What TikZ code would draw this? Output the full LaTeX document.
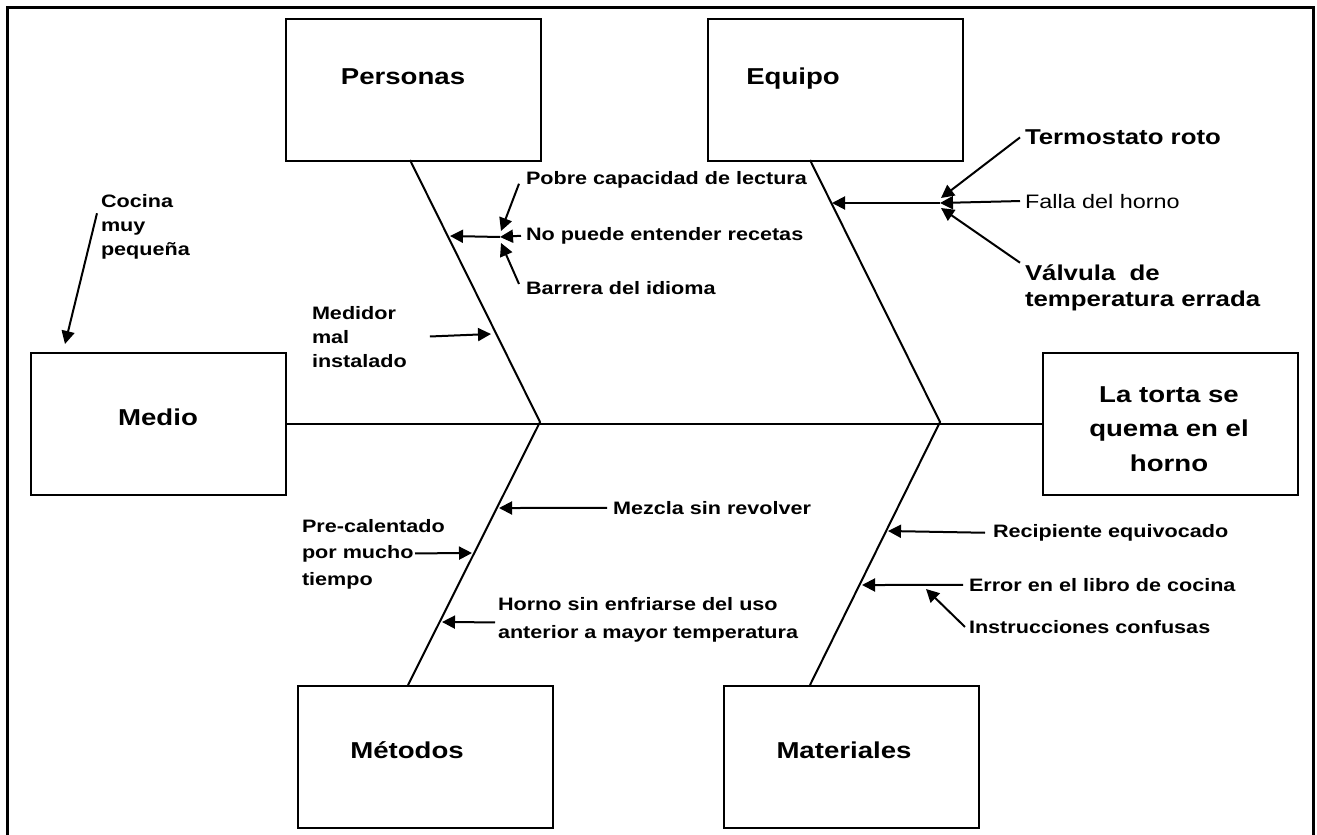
\documentclass[tikz,border=0pt]{standalone}
\usepackage{fontspec}
\setmainfont[FakeStretch=1.2]{Liberation Sans}
\usetikzlibrary{arrows.meta}
\begin{document}
\begin{tikzpicture}[x=1pt,y=-1pt,line width=2pt,
  box/.style={draw,line width=2pt,minimum width=255pt,minimum height=142pt,inner sep=0pt,anchor=north west},
  title/.style={font=\fontsize{23}{27}\selectfont\bfseries,inner sep=0pt},
  cause/.style={font=\fontsize{18}{24}\selectfont\bfseries,inner sep=0pt,align=left},
  bigcause/.style={font=\fontsize{21.5}{26}\selectfont\bfseries,inner sep=0pt,align=left},
  arr/.style={-{Triangle[length=13pt,width=13pt]},line width=2pt},
  bone/.style={line width=2pt}]
\useasboundingbox (0,0) rectangle (1317,835);
% frame
\draw[line width=3pt] (7,845) -- (7,7) -- (1313,7) -- (1313,845);
% boxes
\node[box] (personas) at (285,18) {};
\node[box] (equipo) at (707,18) {};
\node[box] (medio) at (30,352) {};
\node[box] (efecto) at (1042,352) {};
\node[box] (metodos) at (297,685) {};
\node[box] (materiales) at (723,685) {};
% box titles
\node[title,anchor=base] (lpersonas) at (403,84.2) {Personas};
\node[title,anchor=base] (lequipo) at (793,84.2) {Equipo};
\node[title,anchor=base] (lmedio) at (158,425.2) {Medio};
\node[title,anchor=base] (lmetodos) at (407,758.2) {Métodos};
\node[title,anchor=base] (lmateriales) at (844,758.2) {Materiales};
\node[title,align=center,anchor=north,font=\fontsize{23}{34.5}\selectfont\bfseries] (lefecto) at (1169,383.2) {\rule{0pt}{18pt}La torta se\\quema en el\\horno};
% spine and bones
\coordinate (A1) at (540,422);
\coordinate (A2) at (940,422);
\coordinate (PB) at (410,160);
\coordinate (EB) at (810,160);
\coordinate (MB) at (408,685);
\coordinate (TB) at (810,685);
\draw[bone] (medio.east) -- (efecto.west);
\draw[bone] (PB) -- (A1) -- (MB);
\draw[bone] (EB) -- (A2) -- (TB);
% cause texts
\node[cause,anchor=north west] (cocina) at (100,192.4) {\rule{0pt}{14pt}Cocina\\muy\\pequeña};
\node[cause,anchor=north west] (medidor) at (311,304.4) {\rule{0pt}{14pt}Medidor\\mal\\instalado};
\node[cause,anchor=base west] (pobre) at (525,184.4) {Pobre capacidad de lectura};
\node[cause,anchor=base west] (nopuede) at (525,240.4) {No puede entender recetas};
\node[cause,anchor=base west] (barrera) at (525,294.4) {Barrera del idioma};
\node[bigcause,anchor=base west] (termo) at (1024,144.7) {Termostato roto};
\node[inner sep=0pt,anchor=base west,font=\fontsize{19.5}{24}\selectfont] (falla) at (1024,208) {Falla del horno};
\node[bigcause,anchor=north west] (valvula) at (1024,259.7) {\rule{0pt}{20pt}Válvula\ \ de\\temperatura errada};
\node[cause,anchor=base west] (mezcla) at (612,514.4) {Mezcla sin revolver};
\node[cause,anchor=north west,font=\fontsize{18}{26.5}\selectfont\bfseries] (precal) at (301,517.4) {\rule{0pt}{14pt}Pre-calentado\\por mucho\\tiempo};
\node[cause,anchor=north west,font=\fontsize{18}{28.5}\selectfont\bfseries] (horno) at (497,595.4) {\rule{0pt}{14pt}Horno sin enfriarse del uso\\anterior a mayor temperatura};
\node[cause,anchor=base west] (recip) at (992,537.4) {Recipiente equivocado};
\node[cause,anchor=base west] (error) at (968,591.4) {Error en el libro de cocina};
\node[cause,anchor=base west] (instr) at (968,633.4) {Instrucciones confusas};
% arrow end points
\coordinate (Tcoc) at (65,344);
\coordinate (Tmed) at (491,334);
\coordinate (J1) at (500,237);
\coordinate (J1a) at (501,231);
\coordinate (J1b) at (501,243);
\coordinate (Tper) at (450,236);
\coordinate (J2) at (940,203);
\coordinate (J2a) at (941,198);
\coordinate (J2b) at (941,208);
\coordinate (Tequ) at (832,203);
\coordinate (Tmez) at (499,508);
\coordinate (Tpre) at (472,553);
\coordinate (Thor) at (442,622);
\coordinate (Trec) at (888,531);
\coordinate (Terr) at (862,585);
\coordinate (Tins) at (926,589);
% arrows
\draw[arr] ([shift={(-3,-13)}]cocina.west) -- (Tcoc);
\draw[arr] ([xshift=22pt]medidor.east) -- (Tmed);
\draw[arr] ([shift={(-6,4)}]pobre.west) -- (J1a);
\draw[arr] ([xshift=-4pt]nopuede.west) -- (J1);
\draw[arr] ([shift={(-6,-4)}]barrera.west) -- (J1b);
\draw[arr] (J1) -- (Tper);
\draw[arr] ([xshift=-4pt]termo.west) -- (J2a);
\draw[arr] ([xshift=-4pt]falla.west) -- (J2);
\draw[arr] ([shift={(-4,3)}]valvula.north west) -- (J2b);
\draw[arr] (J2) -- (Tequ);
\draw[arr] ([xshift=-5pt]mezcla.west) -- (Tmez);
\draw[arr] ([shift={(114,36)}]precal.north west) -- (Tpre);
\draw[arr] ([shift={(-2,27)}]horno.north west) -- (Thor);
\draw[arr] ([xshift=-7pt]recip.west) -- (Trec);
\draw[arr] ([xshift=-5pt]error.west) -- (Terr);
\draw[arr] ([xshift=-3pt]instr.west) -- (Tins);
\end{tikzpicture}
\end{document}
